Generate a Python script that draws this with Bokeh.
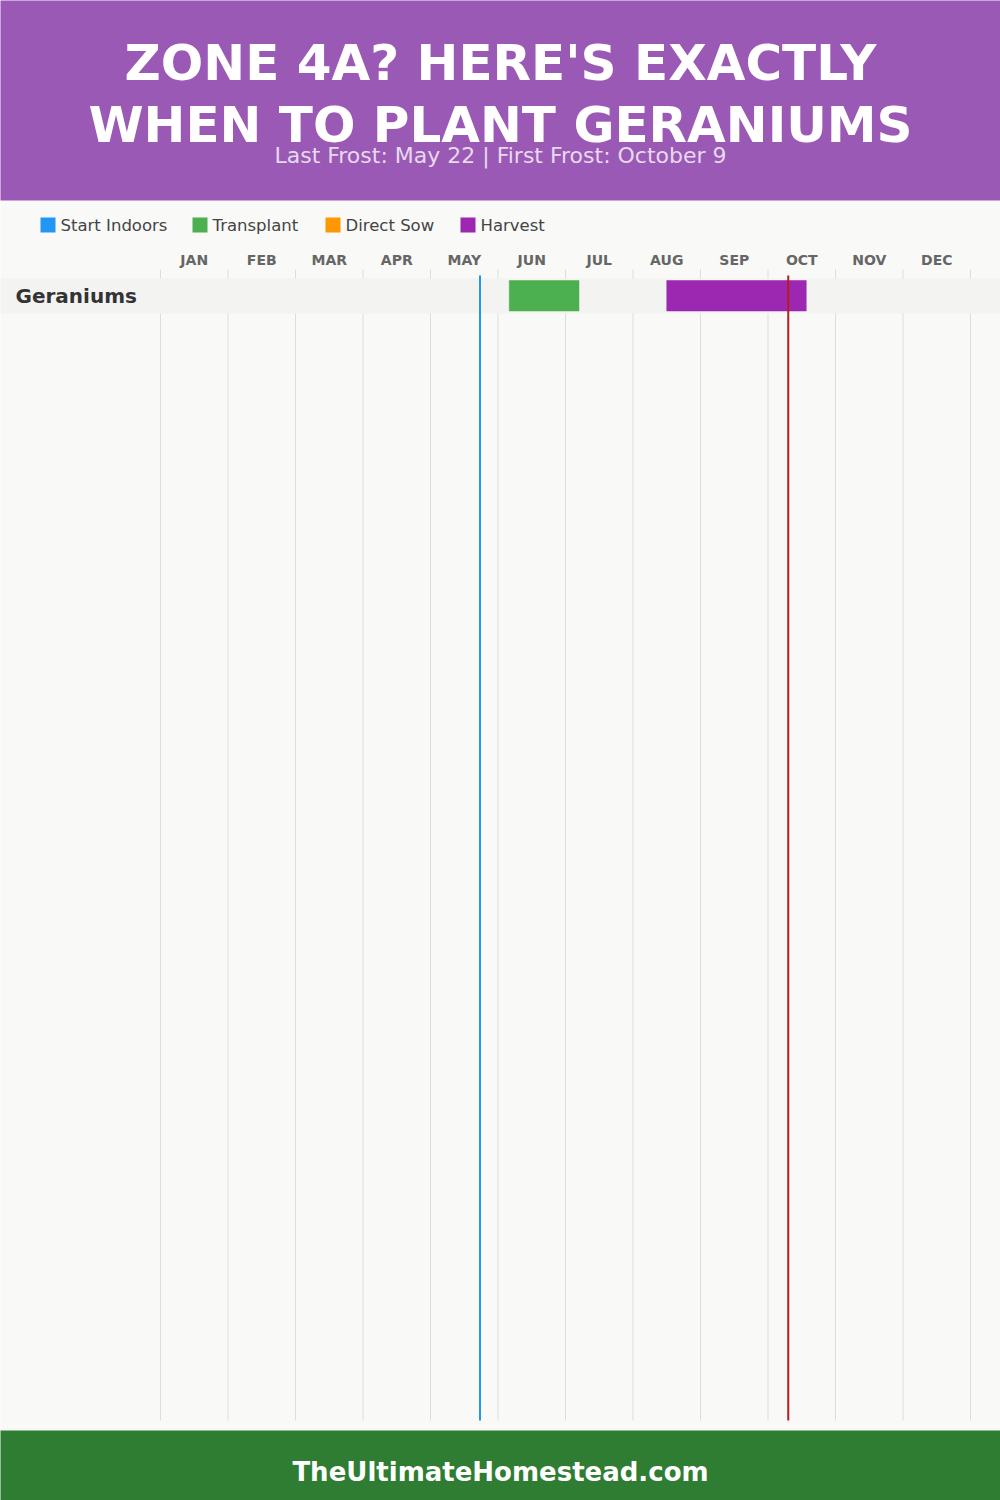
from bokeh.plotting import figure
from bokeh.models import Range1d, Label, ColumnDataSource
from bokeh.core.properties import value
from bokeh.embed import file_html
from bokeh.resources import INLINE

# ---------------- data ----------------
title_lines = ["ZONE 4A? HERE'S EXACTLY", "WHEN TO PLANT GERANIUMS"]
subtitle = "Last Frost: May 22 | First Frost: October 9"
footer = "TheUltimateHomestead.com"

months = ["JAN", "FEB", "MAR", "APR", "MAY", "JUN", "JUL", "AUG", "SEP", "OCT", "NOV", "DEC"]

legend_labels = ["Start Indoors", "Transplant", "Direct Sow", "Harvest"]
legend_colors = ["#2196f3", "#4caf50", "#ff9800", "#9c27b0"]

crops = ["Geraniums"]
# activities: (crop, activity, start month, start day, end month, end day)
act_crop = ["Geraniums", "Geraniums"]
act_type = ["Transplant", "Harvest"]
act_start_month = [6, 8]
act_start_day = [5, 15]
act_end_month = [7, 10]
act_end_day = [6, 17]

last_frost = (5, 22)
first_frost = (10, 9)

# ---------------- helpers ----------------
def mpos(month, day):
    return (month - 1) + day / 30.0

PX0 = 160.0      # left edge of January column (px)
MW = 67.5        # month column width (px)
def px2m(px):
    return (px - PX0) / MW

XS, XE = px2m(0), px2m(1000)

p = figure(width=1000, height=1500, x_range=Range1d(XS, XE), y_range=Range1d(1500, 0),
           output_backend="svg", toolbar_location=None, min_border=0,
           background_fill_color="#f9f9f7", border_fill_color="#f9f9f7")
p.axis.visible = False
p.grid.visible = False
p.outline_line_color = None

FONT = "DejaVu Sans"
TFONT = "DejaVu Sans"

# header / footer blocks
p.quad(left=[px2m(-5)], right=[px2m(1005)], top=[-5], bottom=[200], fill_color="#9b59b6", line_color=None)
p.quad(left=[px2m(-5)], right=[px2m(1005)], top=[1430], bottom=[1505], fill_color="#2e7d32", line_color=None)

for i, t in enumerate(title_lines):
    p.add_layout(Label(x=px2m(500), y=62 + 62 * i, text=t, text_font=TFONT, text_font_style="bold",
                       text_font_size="50px", text_color="white", text_align="center",
                       text_baseline="middle"))
p.add_layout(Label(x=px2m(500), y=155, text=subtitle, text_font=FONT, text_font_size="22px",
                   text_color="#e6d9ee", text_align="center", text_baseline="middle"))
p.add_layout(Label(x=px2m(500), y=1471, text=footer, text_font=FONT, text_font_style="bold",
                   text_font_size="26px", text_color="white", text_align="center",
                   text_baseline="middle"))

# legend
leg_px = [40, 192, 325, 460]
leg_x = [px2m(v + 7.5) for v in leg_px]
p.scatter(x=leg_x, y=[224.5] * 4, marker="square", size=15, fill_color=legend_colors, line_color=None)
p.text(x=[px2m(v + 20) for v in leg_px], y=[225] * 4, text=legend_labels,
       text_font=value(FONT), text_font_size="16.5px", text_color="#444444",
       text_baseline="middle", text_align="left")

# month labels
p.text(x=[i + 0.5 for i in range(12)], y=[259] * 12, text=months, text_font=value(FONT),
       text_font_style="bold", text_font_size="14px", text_color="#666666",
       text_align="center", text_baseline="middle")

# grid lines
p.segment(x0=list(range(13)), x1=list(range(13)), y0=[269] * 13, y1=[1420] * 13,
          line_color="#dddddd", line_width=1)

# rows
ROW_TOP, ROW_H = 278, 35
for i, c in enumerate(crops):
    p.quad(left=[px2m(-5)], right=[px2m(1005)], top=[ROW_TOP + i * ROW_H], bottom=[ROW_TOP + (i + 1) * ROW_H],
           fill_color="#f3f3f2", line_color=None)
    p.text(x=[px2m(15)], y=[ROW_TOP + i * ROW_H + ROW_H / 2], text=[c], text_font=value(FONT),
           text_font_style="bold", text_font_size="20px", text_color="#333333",
           text_baseline="middle", text_align="left")

color_map = dict(zip(legend_labels, legend_colors))
src = ColumnDataSource(dict(
    left=[mpos(m, d) for m, d in zip(act_start_month, act_start_day)],
    right=[mpos(m, d) for m, d in zip(act_end_month, act_end_day)],
    top=[ROW_TOP + crops.index(c) * ROW_H + 2 for c in act_crop],
    bottom=[ROW_TOP + crops.index(c) * ROW_H + ROW_H - 2.5 for c in act_crop],
    color=[color_map[t] for t in act_type],
))
p.quad(left="left", right="right", top="top", bottom="bottom", fill_color="color",
       line_color="color", line_width=0.5, line_join="round", source=src)

# frost lines
p.segment(x0=[mpos(*last_frost), mpos(*first_frost)], x1=[mpos(*last_frost), mpos(*first_frost)],
          y0=[275, 275], y1=[1420, 1420], line_color=["#2196f3", "#b71c1c"], line_width=2)

open("out.html", "w").write(file_html(p, INLINE))
